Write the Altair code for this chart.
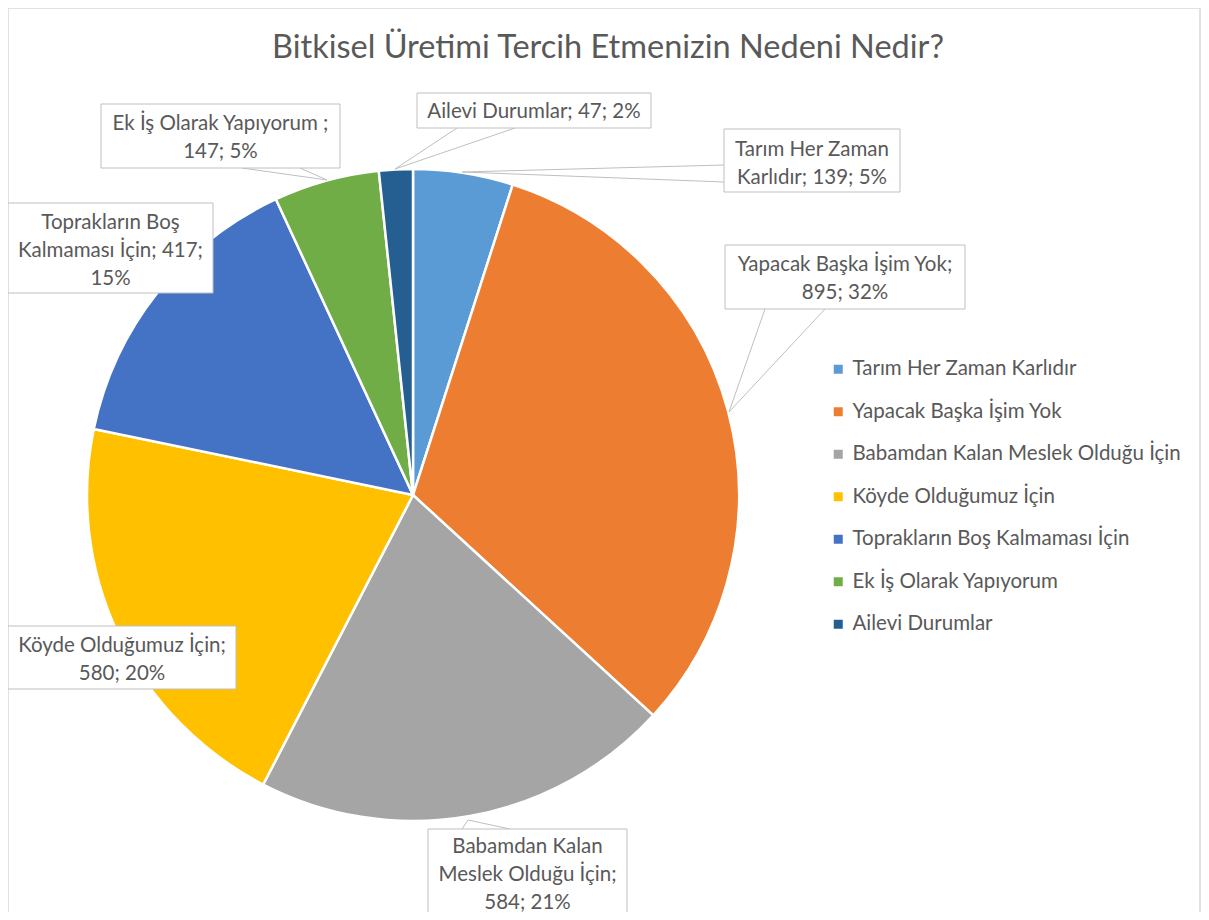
import altair as alt
import pandas as pd

# ---------------- data ----------------
categories = [
    "Tarım Her Zaman Karlıdır",
    "Yapacak Başka İşim Yok",
    "Babamdan Kalan Meslek Olduğu İçin",
    "Köyde Olduğumuz İçin",
    "Toprakların Boş Kalmaması İçin",
    "Ek İş Olarak Yapıyorum",
    "Ailevi Durumlar",
]
values = [139, 895, 584, 580, 417, 147, 47]
percents = ["5%", "32%", "21%", "20%", "15%", "5%", "2%"]
label_lines = [
    ["Tarım Her Zaman", "Karlıdır; 139; 5%"],
    ["Yapacak Başka İşim Yok;", "895; 32%"],
    ["Babamdan Kalan", "Meslek Olduğu İçin;", "584; 21%"],
    ["Köyde Olduğumuz İçin;", "580; 20%"],
    ["Toprakların Boş", "Kalmaması İçin; 417;", "15%"],
    ["Ek İş Olarak Yapıyorum ;", "147; 5%"],
    ["Ailevi Durumlar; 47; 2%"],
]
title_text = "Bitkisel Üretimi Tercih Etmenizin Nedeni Nedir?"

# ---------------- style / layout ----------------
colors = ["#5B9BD5", "#ED7D31", "#A5A5A5", "#FFC000", "#4472C4", "#70AD47", "#255E91"]
FONT = "Lato"
TXT = "#595959"
W, H = 1193, 904
OFF = 8  # page margin; layout coords below are page pixels
LH = 28
# label boxes: x1, x2, y1, y2 (page pixels)
boxes = [
    (724, 900, 129, 192),
    (725, 965, 245, 309),
    (428, 627, 829, 960),
    (8, 236, 626, 689),
    (8, 213, 203, 293),
    (101, 340, 104, 168),
    (417, 651, 93, 128),
]
text_center_y = [164, 279, 875, 660, 251, 138, 112]
# callout wedges: base1, tip, base2
callouts = [
    [(724, 165), (462, 172), (724, 182)],
    [(765, 309), (729, 412), (825, 309)],
    [(462, 829), (468, 820), (510, 829)],
    None,
    None,
    [(242, 168), (327, 180), (300, 168)],
    [(457, 128), (395, 169), (515, 128)],
]
pie_center = (413, 495)
pie_radius = 326

xs = alt.Scale(domain=[OFF, OFF + W], nice=False, zero=False)
ys = alt.Scale(domain=[OFF + H, OFF], nice=False, zero=False)

pie_df = pd.DataFrame({"cat": categories, "val": values, "ord": list(range(len(values)))})

pie = alt.Chart(pie_df).mark_arc(
    radius=pie_radius, stroke="white", strokeWidth=2.5
).encode(
    theta=alt.Theta("val:Q", stack=True),
    order=alt.Order("ord:Q"),
    color=alt.Color(
        "cat:N",
        sort=categories,
        scale=alt.Scale(domain=categories, range=colors),
        legend=alt.Legend(
            orient="none", legendX=820, legendY=351, title=None,
            symbolType="square", symbolSize=81, symbolStrokeWidth=0,
            labelFont=FONT, labelFontSize=20.5, labelColor=TXT,
            rowPadding=21.5, labelOffset=4, padding=0, labelLimit=500,
        ),
    ),
    x=alt.value(pie_center[0] - OFF),
    y=alt.value(pie_center[1] - OFF),
)

# callout lines
cl_rows = []
for i, c in enumerate(callouts):
    if c is None:
        continue
    for j, (px, py) in enumerate(c):
        cl_rows.append({"id": i, "k": j, "x": px, "y": py})
cl_df = pd.DataFrame(cl_rows)
callout_layer = alt.Chart(cl_df).mark_line(color="#bfbfbf", strokeWidth=1).encode(
    x=alt.X("x:Q", scale=xs, axis=None),
    y=alt.Y("y:Q", scale=ys, axis=None),
    detail="id:N",
    order="k:Q",
)

box_df = pd.DataFrame(
    [{"x": b[0], "x2": b[1], "y": b[2], "y2": b[3]} for b in boxes]
)
box_layer = alt.Chart(box_df).mark_rect(
    fill="white", stroke="#bfbfbf", strokeWidth=1
).encode(
    x=alt.X("x:Q", scale=xs, axis=None),
    x2="x2:Q",
    y=alt.Y("y:Q", scale=ys, axis=None),
    y2="y2:Q",
)

lab_df = pd.DataFrame(
    [
        {
            "x": (b[0] + b[1]) / 2,
            "y": text_center_y[i] - (len(label_lines[i]) - 1) * LH / 2,
            "t": "\n".join(label_lines[i]),
        }
        for i, b in enumerate(boxes)
    ]
)
text_layer = alt.Chart(lab_df).mark_text(
    font=FONT, fontSize=20.5, color=TXT, align="center", baseline="middle",
    lineBreak="\n", lineHeight=LH,
).encode(
    x=alt.X("x:Q", scale=xs, axis=None),
    y=alt.Y("y:Q", scale=ys, axis=None),
    text="t:N",
)

title_layer = alt.Chart(pd.DataFrame({"x": [608], "y": [48], "t": [title_text]})).mark_text(
    font=FONT, fontSize=32.5, color=TXT, align="center", baseline="middle"
).encode(
    x=alt.X("x:Q", scale=xs, axis=None),
    y=alt.Y("y:Q", scale=ys, axis=None),
    text="t:N",
)

frame_df = pd.DataFrame(
    {"x": [OFF, OFF, OFF + W - 1], "x2": [OFF, OFF + W - 1, OFF + W - 1],
     "y": [OFF, OFF, OFF], "y2": [OFF + H, OFF, OFF + H]}
)
frame = alt.Chart(frame_df).mark_rule(color="#d9d9d9", strokeWidth=1.5).encode(
    x=alt.X("x:Q", scale=xs, axis=None),
    x2="x2:Q",
    y=alt.Y("y:Q", scale=ys, axis=None),
    y2="y2:Q",
)

chart = alt.layer(frame, pie, callout_layer, box_layer, text_layer, title_layer).properties(
    width=W, height=H, padding=0, autosize=alt.AutoSizeParams(type="none"),
    background="white",
).configure_view(stroke=None)

chart.save("out.html", embed_options={"renderer": "svg", "actions": False})
